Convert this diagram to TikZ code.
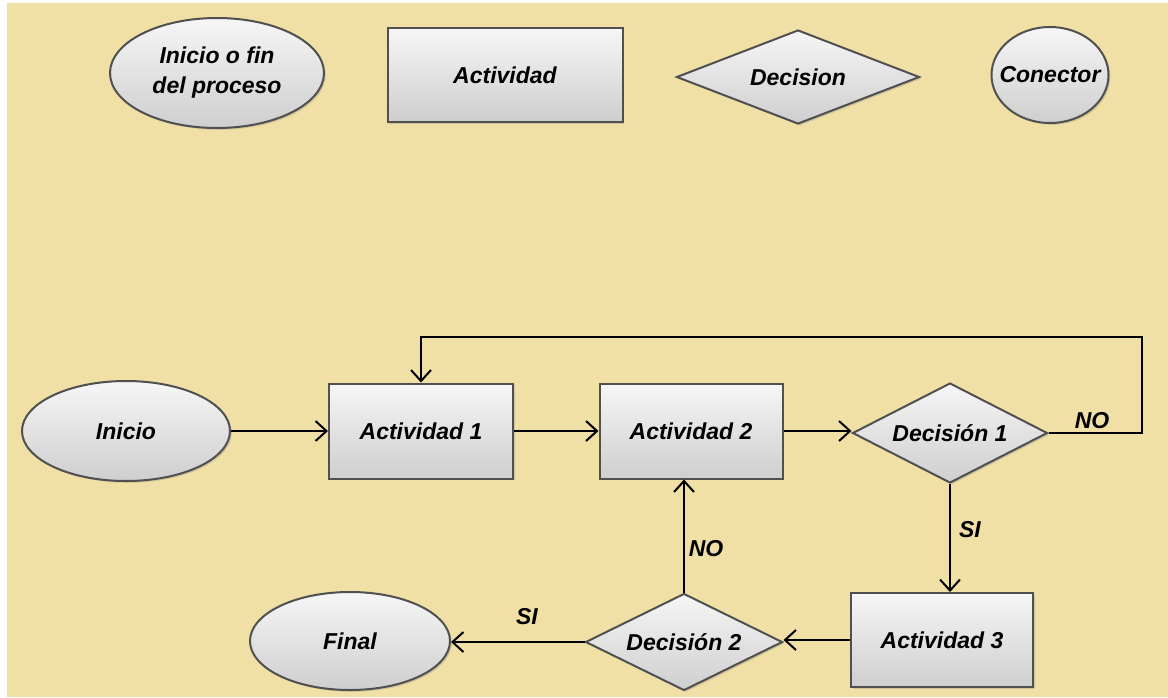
\documentclass[tikz,border=0pt]{standalone}
\usepackage{fontspec}
\setmainfont{Liberation Sans}
\usetikzlibrary{shapes.geometric,arrows.meta,shadows}
\definecolor{paper}{RGB}{240,224,166}
\definecolor{edge}{RGB}{80,80,80}
\tikzset{
  txt/.style={font=\bfseries\itshape\fontsize{11.5}{15}\selectfont},
  base/.style={txt, draw=edge, line width=1pt, top color=gray!7, bottom color=gray!38,
    drop shadow={shadow xshift=0.9pt, shadow yshift=-0.9pt, opacity=0.3},
    align=center, inner sep=0pt},
  term/.style={base, ellipse},
  act/.style={base, rectangle},
  dec/.style={base, diamond, aspect=2.6},
  conn/.style={base, ellipse, inner xsep=-5pt},
  flow/.style={line width=1pt, -{Straight Barb[length=5.5pt, width=10pt, line width=1pt]}},
}
\begin{document}
\begin{tikzpicture}[x=0.5pt, y=-0.5pt]
  % page and paper
  \fill[white] (0,0) rectangle (1168,697);
  \fill[paper] (7,3) rectangle (1168,697);
  \useasboundingbox (0,0) rectangle (1168,697);

  % legend row
  \node[term, minimum width=107pt, minimum height=55pt] (lgterm) at (217,73) {Inicio o fin\\del proceso};
  \node[act, minimum width=117.5pt, minimum height=47pt] (lgact) at (505,75) {Actividad};
  \node[dec, minimum width=121.5pt, minimum height=47pt] (lgdec) at (798,77) {Decision};
  \node[conn, minimum width=58.5pt, minimum height=48pt] (lgconn) at (1050,75) {Conector};

  % process
  \node[term, minimum width=104pt, minimum height=50pt] (ini) at (126,431) {Inicio};
  \node[act, minimum width=92pt, minimum height=47.5pt] (a1) at (421,431) {Actividad 1};
  \node[act, minimum width=91.5pt, minimum height=47.5pt] (a2) at (691,431) {Actividad 2};
  \node[dec, minimum width=97.5pt, minimum height=50pt] (d1) at (950,433) {Decisión 1};
  \node[act, minimum width=91pt, minimum height=47pt] (a3) at (942,640) {Actividad 3};
  \node[dec, minimum width=98.5pt, minimum height=48.5pt] (d2) at (684,642) {Decisión 2};
  \node[term, minimum width=100pt, minimum height=49pt] (fin) at (350,641) {Final};

  \coordinate (loop) at (1142,337);

  % connectors
  \draw[flow] (ini.east) -- (ini.east -| a1.west);
  \draw[flow] (a1.east) -- (a1.east -| a2.west);
  \draw[flow] (a2.east) -- (a2.east -| d1.west);
  \draw[flow] (d1.east) -| (loop) -| (a1.north);
  \draw[flow] (d1.south) -- (d1.south |- a3.north);
  \draw[flow] (a3.west) -- (a3.west -| d2.east);
  \draw[flow] (d2.west) -- (d2.west -| fin.east);
  \draw[flow] (d2.north) -- (d2.north |- a2.south);

  % branch labels
  \node[txt] (no1) at (1092,421) {NO};
  \node[txt] (si1) at (970,530) {SI};
  \node[txt] (no2) at (706,549) {NO};
  \node[txt] (si2) at (527,617) {SI};
\end{tikzpicture}
\end{document}
